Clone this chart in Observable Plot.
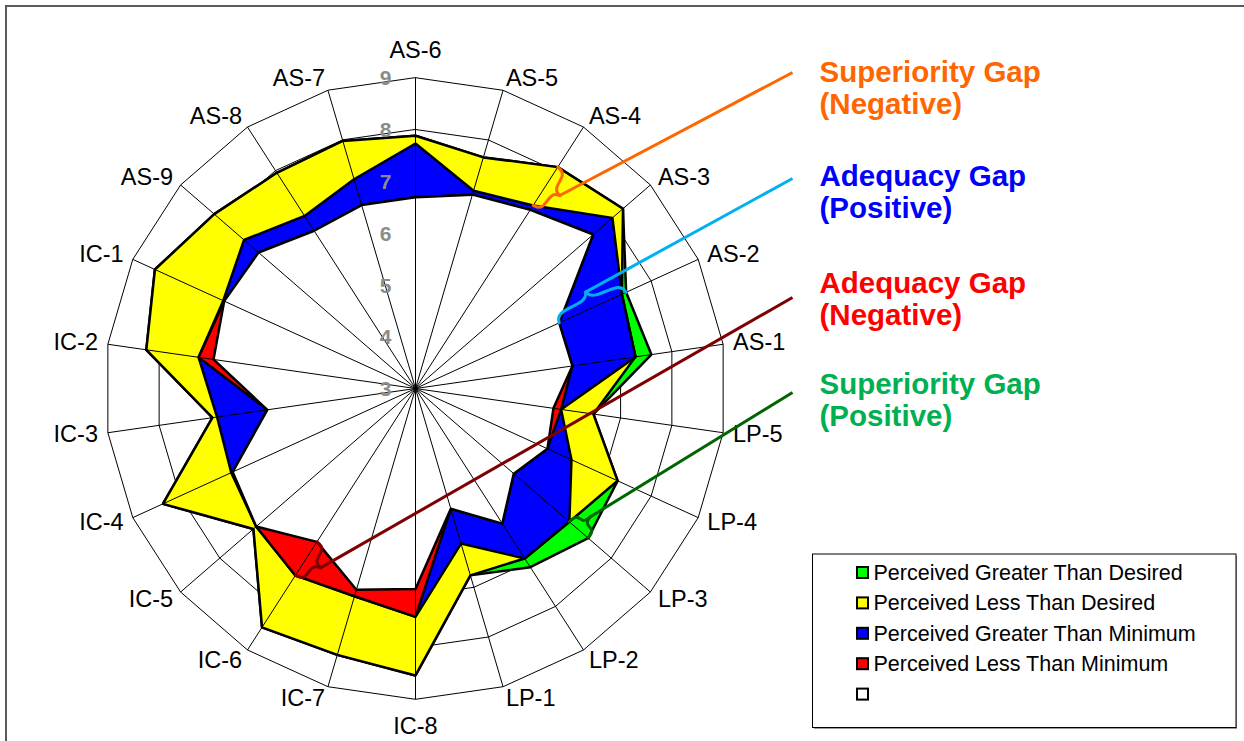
<!DOCTYPE html>
<html><head><meta charset="utf-8">
<script src="https://cdn.jsdelivr.net/npm/d3@7"></script>
<script src="https://cdn.jsdelivr.net/npm/@observablehq/plot@0.6"></script>
<style>
html,body{margin:0;padding:0;background:#fff;overflow:hidden;}
#wrap{position:relative;width:1244px;height:741px;overflow:hidden;}
#wrap svg{position:absolute;left:0;top:0;}
#frame{position:absolute;left:5px;top:5px;width:1260px;height:760px;border-left:2px solid #5a5a5a;border-top:2px solid #5a5a5a;pointer-events:none;}
</style></head><body><div id="wrap"></div>
<script>
// ---- data (clockwise from the top axis) ----
const categories = ["AS-6","AS-5","AS-4","AS-3","AS-2","AS-1","LP-5","LP-4","LP-3","LP-2","LP-1","IC-8","IC-7","IC-6","IC-5","IC-4","IC-3","IC-2","IC-1","AS-9","AS-8","AS-7"];
const desired   = [7.88,7.65,8.08,8.30,7.38,7.29,6.47,7.29,6.93,6.90,6.76,8.54,8.36,8.48,7.14,8.36,6.96,8.25,8.53,8.14,7.95,7.98];
const perceived = [7.73,6.98,7.20,8.03,7.47,7.60,5.69,6.31,7.41,7.10,6.12,6.87,7.05,6.52,7.07,6.91,6.87,6.94,7.08,7.38,6.96,7.21];
const minimum   = [6.69,6.90,7.10,7.54,6.05,6.06,5.84,5.80,5.51,6.10,5.42,7.41,7.18,7.29,7.07,6.88,5.89,7.23,7.06,7.01,6.62,6.69];
const ringValues = [3,4,5,6,7,8,9];
const tickLabels = ["3","4","5","6","7","8","9"];
const legendLabels = ["Perceived Greater Than Desired","Perceived Less Than Desired","Perceived Greater Than Minimum","Perceived Less Than Minimum",""];
const legendColors = ["#00FF00","#FFFF00","#0000FF","#FF0000","#FFFFFF"];
const gapLabels = ["Superiority Gap\n(Negative)","Adequacy Gap\n(Positive)","Adequacy Gap\n(Negative)","Superiority Gap\n(Positive)"];
const gapTextColors = ["#FF6600","#0000FF","#FF0000","#00B050"];
const gapLineColors = ["#FF6600","#00B0F0","#7F0000","#006400"];
const gapAxes = ["AS-4","AS-2","IC-6","LP-3"];
const gapFrom = ["desired","minimum","perceived","desired"];
const gapTo   = ["perceived","perceived","minimum","perceived"];

// ---- layout ----
const W = 1244, H = 741, CX = 415, CY = 388, UNIT = 51.8, BASE = 3, N = categories.length;
const FONT = "'Liberation Sans', Arial, Helvetica, sans-serif";
const ang = i => 2 * Math.PI * i / N;
const polar = (i, v) => [(v - BASE) * Math.sin(ang(i)), (v - BASE) * Math.cos(ang(i))];
const px = v => (v - CX) / UNIT;
const py = v => (CY - v) / UNIT;
const series = {desired, perceived, minimum};
const outer = ringValues[ringValues.length - 1];

// colour layers, painted bottom to top
const layers = [
  {color: "#00FF00", values: categories.map((c, i) => Math.max(perceived[i], desired[i]))},
  {color: "#FFFF00", values: desired},
  {color: "#0000FF", values: categories.map((c, i) => Math.min(Math.max(perceived[i], minimum[i]), desired[i]))},
  {color: "#FF0000", values: minimum},
  {color: "#FFFFFF", values: categories.map((c, i) => Math.min(perceived[i], minimum[i]))}
];
const toPts = vals => vals.map((v, i) => { const p = polar(i, v); return {x: p[0], y: p[1]}; });

const ringData = [];
ringValues.filter(v => v > BASE).forEach(v => categories.forEach((c, i) => { const p = polar(i, v); ringData.push({ring: v, x: p[0], y: p[1]}); }));

// category label placement (box pushed outward from the outer ring vertex)
const catLabels = categories.map((c, i) => {
  const s = Math.sin(ang(i)), co = Math.cos(ang(i));
  const [vx, vy] = polar(i, outer);
  if (Math.abs(s) < 0.05) return {c, side: "middle", x: vx, y: vy + co * 27.5 / UNIT};
  return {c, side: s > 0 ? "start" : "end", x: vx + Math.sign(s) * 10 * Math.abs(s) / UNIT, y: vy + 12 * co / UNIT};
});

// braces + connectors
const braceData = [], connData = [], gapText = [];
const textTops = [58, 162, 269, 370];
const lineEnds = [[792, 72], [792, 178], [792, 297], [792, 392]];
gapAxes.forEach((ax, g) => {
  const i = categories.indexOf(ax);
  const A = polar(i, series[gapFrom[g]][i]), B = polar(i, series[gapTo[g]][i]);
  const E = [px(lineEnds[g][0]), py(lineEnds[g][1])];
  const dx = B[0] - A[0], dy = B[1] - A[1];
  let nx = -dy, ny = dx; const nl = Math.hypot(nx, ny); nx /= nl; ny /= nl;
  const Mx = (A[0] + B[0]) / 2, My = (A[1] + B[1]) / 2;
  if ((E[0] - Mx) * nx + (E[1] - My) * ny < 0) { nx = -nx; ny = -ny; }
  const h = 17 / UNIT;
  const pt = (u, o) => ({x: A[0] + dx * u + nx * h * o, y: A[1] + dy * u + ny * h * o});
  [[0,0],[0.03,0.6],[0.45,0.5],[0.5,1]].forEach(([u,o]) => braceData.push({...pt(u,o), k: g + "a", g}));
  [[0.5,1],[0.55,0.5],[0.97,0.6],[1,0]].forEach(([u,o]) => braceData.push({...pt(u,o), k: g + "b", g}));
  const tip = pt(0.5, 1);
  connData.push({x1: tip.x, y1: tip.y, x2: E[0], y2: E[1], g});
  gapText.push({x: px(819), y: py(textTops[g]), text: gapLabels[g], g});
});

const legendRows = legendLabels.map((t, i) => ({t, i, yc: 572.5 + i * 30.4}));

const catText = side => Plot.text(catLabels.filter(d => d.side === side), {x: "x", y: "y", text: "c", textAnchor: side, fill: "#000", fontSize: 23.5});

const chart = Plot.plot({
  width: W, height: H, margin: 0,
  x: {domain: [px(0), px(W)], range: [0, W], axis: null},
  y: {domain: [py(H), py(0)], range: [H, 0], axis: null},
  color: {type: "identity"},
  style: {background: "transparent", fontFamily: FONT},
  marks: [
    Plot.line(ringData, {x: "x", y: "y", z: "ring", curve: "linear-closed", stroke: "#000", strokeWidth: 1}),
    ...layers.map(L => Plot.line(toPts(L.values), {x: "x", y: "y", curve: "linear-closed", fill: L.color, stroke: "#000", strokeWidth: 2.5, strokeLinejoin: "miter"})),
    Plot.link(categories, {x1: 0, y1: 0, x2: (c, i) => polar(i, outer)[0], y2: (c, i) => polar(i, outer)[1], stroke: "#000", strokeWidth: 1}),
    Plot.text(ringValues, {x: 0, y: v => v - BASE, dx: -30, dy: 1, text: (v, i) => tickLabels[i], fill: "#8c8c8c", fontWeight: "bold", fontSize: 21}),
    catText("start"), catText("end"), catText("middle"),
    Plot.line(braceData, {x: "x", y: "y", z: "k", stroke: d => gapLineColors[d.g], strokeWidth: 3, curve: "basis"}),
    Plot.link(connData, {x1: "x1", y1: "y1", x2: "x2", y2: "y2", stroke: d => gapLineColors[d.g], strokeWidth: 3}),
    Plot.text(gapText, {x: "x", y: "y", text: "text", fill: d => gapTextColors[d.g], textAnchor: "start", lineAnchor: "top", lineHeight: 1.1, fontWeight: "bold", fontSize: 29.5}),
    Plot.rect([0], {x1: px(814), x2: px(1237), y1: py(556), y2: py(729), fill: "#9a9a9a"}),
    Plot.rect([0], {x1: px(812.5), x2: px(1236), y1: py(554), y2: py(727.5), fill: "#fff", stroke: "#000", strokeWidth: 1}),
    Plot.rect(legendRows, {x1: px(857), x2: px(868), y1: d => py(d.yc - 5.5), y2: d => py(d.yc + 5.5), fill: d => legendColors[d.i], stroke: "#000", strokeWidth: 2}),
    Plot.text(legendRows, {x: px(873), y: d => py(d.yc), text: "t", textAnchor: "start", fill: "#000", fontSize: 21.5})
  ]
});
document.getElementById("wrap").appendChild(chart);
const fr = document.createElement("div"); fr.id = "frame"; document.getElementById("wrap").appendChild(fr);
</script></body></html>
